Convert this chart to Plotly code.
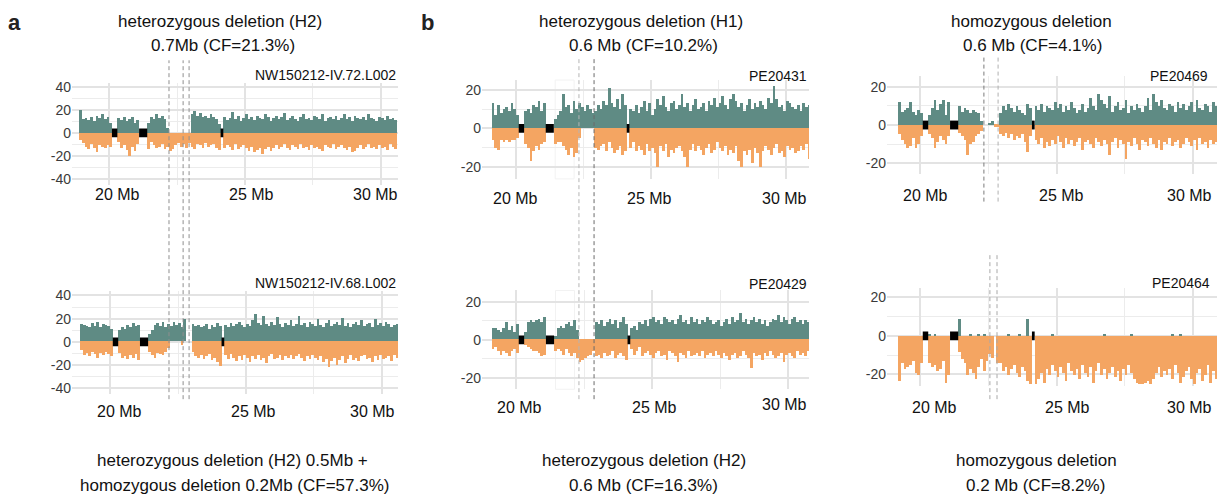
import plotly.graph_objects as go

W, H = 1221, 497
BIN_MB = 0.1

# ---------------- data ----------------
# each list = one value per 0.1 Mb bin; H = teal (haplotype, up), L = orange (down)
A_TOP_START = 18.9
A_TOP_H = [20,12,13,11,14,10,15,13,16,12,14,9, 0,0, 13,11,14,10,12,14,9,11, 0,0,0,
           9,14,12,16,13,15,12,4, 0,0,0,0,0,0,0,0, 16,19,15,17,14,15,13,16,14,12,8, 0,
           14,11,13,18,12,15,10,13, 16,12,14,11,15,13,12,16, 14,10,13,15,12,14,17,11,
           13,15,12,10,14,16,12,13, 11,15,14,12,16,10,13,14, 12,15,11,13,16,12,14,10,
           15,13,12,14,11,16,13,12, 10,14,13,11,15,12,13,11]
A_TOP_L = [-6,-9,-12,-14,-10,-13,-17,-11,-12,-13,-11,-12, 0,0, -8,-13,-11,-15,-20,-12,-16,-10, 0,0,0,
           -14,-8,-11,-13,-12,-10,-14,-12, -16,-14,-11,-9,-12,-10,-13,-9,
           -12,-14,-10,-11,-13,-9,-12,-11,-10,-13,-15, 0,
           -13,-11,-12,-15,-10,-14,-12,-11, -13,-16,-12,-17,-15,-13,-18,-14, -12,-16,-13,-11,-14,-12,-10,-13,
           -15,-11,-12,-14,-10,-13,-12,-15, -11,-13,-12,-14,-16,-11,-12,-13, -10,-14,-12,-11,-13,-15,-12,-17,
           -16,-13,-11,-14,-12,-10,-13,-12, -14,-11,-13,-12,-15,-10,-12,-14]

A_BOT_START = 18.9
A_BOT_H = [15,14,13,12,16,13,17,12,15,14,13,11, 0,0, 10,12,11,14,12,16,13,14, 0,0,0,
           6,10,14,16,13,17,12,15, 13,17,14,16,12,19, 0,0, 15,13,14,12,13,15,11,14,12,16,13, 0,
           14,12,16,13,15,17,14,12, 15,13,18,24,16,14,22,15, 13,17,14,21,15,12,16,14,
           18,13,15,22,14,16,12,17, 15,13,19,14,12,16,18,13, 15,17,14,20,13,16,12,15,
           17,14,18,13,15,16,12,19, 14,16,13,17,15,12,14,15]
A_BOT_L = [-7,-12,-10,-13,-9,-11,-14,-10,-12,-9,-11,-13, 0,0, -10,-14,-13,-15,-12,-14,-11,-16, 0,0,0,
           -9,-12,-14,-10,-11,-12,-9,-6, 0,0,0,0,-3,0,0,0,
           -9,-13,-14,-12,-15,-13,-11,-16,-14,-18,-21, 0,
           -12,-15,-11,-14,-17,-13,-16,-12, -14,-18,-13,-15,-12,-16,-14,-19, -13,-11,-15,-14,-12,-16,-13,-14,
           -12,-15,-13,-11,-14,-17,-13,-15, -12,-14,-16,-13,-18,-15,-22,-17, -14,-20,-16,-13,-19,-15,-12,-16,
           -14,-17,-13,-12,-15,-14,-18,-13, -16,-12,-15,-14,-13,-17,-12,-14]

B_TOP_START = 19.1
B_TOP_H = [13,7,12,8,10,11,9,13,10,7, 0,0, 9,10,8,12,11,14,9,13, 0,0,0,
           5,7,9,18,11,12,8,14,10, 13,11,9,12,10,8,
           9,12,10,14,12,21,13,11,15,10,18,12, 0,
           10,9,12,8,11,14,9,13, 7,10,15,12,17,11,9,13, 14,10,12,18,11,13,9,12,
           15,10,11,13,9,14,12,16, 11,13,17,12,10,15,18,14, 11,13,9,12,15,10,13,11,
           14,12,10,16,13,22,15,11, 12,9,14,13,11,10,12,9, 13,11,12]
B_TOP_L = [-6,-10,-11,-6,-7,-6,-7,-6,-6,-5, 0,0, -8,-10,-17,-12,-9,-11,-8,-7, 0,0,0,
           -8,-7,-7,-9,-11,-14,-10,-15,-13, -5,0,0,0,0,0,
           -10,-11,-9,-8,-12,-7,-10,-13,-11,-9,-14,-12, 0,
           -10,-7,-12,-9,-11,-14,-8,-12, -10,-13,-20,-9,-12,-8,-15,-11, -13,-10,-9,-12,-15,-20,-11,-8,
           -12,-9,-11,-14,-10,-8,-13,-11, -7,-10,-12,-9,-14,-11,-13,-9, -17,-20,-12,-14,-11,-18,-10,-13,
           -20,-12,-9,-11,-14,-10,-8,-13, -12,-15,-9,-11,-10,-13,-12,-9, -11,-8,-16]

B_BOT_START = 19.1
B_BOT_H = [6,6,5,4,6,9,5,7,4,8, 0,0, 4,9,10,9,10,11,9,12, 0,0,0,
           2,6,7,6,8,9,7,10,5, 0,0,0,0,0,0,
           9,8,10,7,9,11,8,10,6,9,12,8, 0,
           6,7,5,9,8,10,7,11, 12,9,10,8,12,11,9,10, 8,11,13,9,10,8,12,9,
           11,8,10,9,12,10,8,9, 10,7,9,11,8,12,9,10, 14,9,11,8,10,12,9,11,
           8,10,7,9,11,10,13,9, 12,10,8,11,12,9,10,8, 10,9,6]
B_BOT_L = [-5,-4,-6,-8,-6,-7,-9,-6,-5,-7, 0,0, -3,-4,-5,-6,-6,-7,-9,-8, 0,0,0,
           -6,-5,-6,-8,-5,-7,-9,-7,-10, -12,-11,-10,-9,-8,-6,
           -9,-8,-10,-7,-9,-8,-6,-10,-8,-7,-9,-11, 0,
           -5,-8,-6,-4,-9,-7,-6,-8, -10,-7,-6,-9,-8,-11,-6,-7, -9,-12,-7,-8,-10,-6,-9,-8,
           -7,-9,-6,-10,-8,-7,-9,-6, -8,-10,-7,-9,-11,-8,-7,-10, -9,-6,-8,-10,-15,-7,-9,-8,
           -11,-7,-9,-6,-8,-10,-9,-7, -12,-8,-7,-9,-10,-6,-8,-7, -9,-6,-5]

C_TOP_START = 19.2
C_TOP_H = [12,7,8,9,12,7,5,8,6, 0,0, 5,9,13,8,11,13,5,12, 0,0,0,
           10,7,9,8,6,8,7,6,2, 0,0,1,2,0,0,
           6,10,8,11,9,7,10,8,6,5,11,9, 0,
           10,8,11,7,10,9,8,12, 9,11,7,10,8,12,9,6, 8,11,7,9,14,10,8,16,
           13,11,9,15,7,10,12,8, 9,13,6,10,8,11,9,7, 10,14,8,16,12,10,13,9,
           8,11,10,7,12,9,11,8, 10,12,7,13,9,8,11,10, 7,12,10]
C_TOP_L = [-5,-8,-10,-12,-11,-7,-12,-10,-6, 0,0, -5,-7,-12,-9,-6,-8,-10,-6, 0,0,0,
           -4,-6,-8,-16,-10,-9,-6,-5,-3, 0,0,0,0,-1,-1,
           -5,-6,-4,-7,-5,-8,-6,-7,-5,-9,-14,-6, 0,
           -8,-10,-7,-12,-9,-11,-8,-10, -6,-9,-12,-7,-10,-8,-11,-9, -7,-13,-9,-8,-10,-12,-7,-9,
           -11,-8,-10,-16,-9,-7,-12,-8, -10,-18,-9,-11,-7,-10,-13,-8, -9,-11,-7,-10,-12,-8,-13,-9,
           -10,-7,-11,-9,-8,-12,-10,-7, -9,-11,-8,-13,-7,-10,-9,-12, -8,-10,-9]

C_BOT_START = 19.2
C_BOT_H = [0,0,0,0,0,0,0,0,0, 0,0, 1,0,1,0,0,0,0,0, 0,0,0,
           9,0,0,0,1,0,0,1,0, 1,0,0,0,0,0,
           0,0,0,1,0,0,0,1,0,0,9,0, 0,
           0,0,0,0,0,0,1,0, 0,0,0,0,0,0,0,0, 0,0,0,0,0,0,0,0,
           0,1,0,0,0,0,0,0, 0,0,0,1,0,0,0,0, 0,0,0,0,0,0,0,0,
           0,0,1,0,0,1,0,0, 0,0,0,0,0,0,0,0, 0,0,0]
C_BOT_L = [-23,-14,-17,-16,-15,-13,-19,-20,-14, 0,0, -14,-16,-15,-18,-17,-13,-24,-20, 0,0,0,
           -8,-12,-14,-20,-17,-19,-22,-16,-12, -18,-13,-9,-11,0,-14,
           -14,-18,-16,-20,-17,-15,-19,-21,-16,-18,-23,-25, 0,
           -25,-22,-19,-24,-17,-20,-15,-18, -21,-16,-19,-23,-14,-18,-20,-17, -22,-15,-19,-21,-16,-24,-18,-14,
           -20,-17,-22,-19,-16,-21,-18,-23, -17,-20,-15,-19,-22,-24,-25,-25, -24,-23,-25,-22,-19,-16,-21,-18,
           -20,-17,-22,-15,-19,-24,-21,-18, -16,-22,-25,-19,-17,-23,-20,-15, -24,-18,-22]

# assembly gaps (black blocks), Mb
GAPS = [[20.1, 20.3], [21.1, 21.4], [24.1, 24.2]]
# deletion breakpoints (dashed lines), Mb in each panel's coordinates
A_BREAKS = [22.2, 22.72, 22.94]
B_BREAKS = [22.33, 22.89]
C_TOP_BREAKS = [22.34, 22.86]
C_BOT_BREAKS = [22.56, 22.82]
B_BOX = [21.45, 22.15]

SAMPLES = ["NW150212-IV.72.L002", "NW150212-IV.68.L002", "PE20431", "PE20429", "PE20469", "PE20464"]
X_TICKS = [20, 25, 30]
X_TICK_TEXT = ["20 Mb", "25 Mb", "30 Mb"]
TOP_TITLES = [["heterozygous deletion (H2)", "0.7Mb (CF=21.3%)"],
              ["heterozygous deletion (H1)", "0.6 Mb (CF=10.2%)"],
              ["homozygous deletion", "0.6 Mb (CF=4.1%)"]]
BOTTOM_TITLES = [["heterozygous deletion (H2) 0.5Mb +", "homozygous deletion 0.2Mb (CF=57.3%)"],
                 ["heterozygous deletion (H2)", "0.6 Mb (CF=16.3%)"],
                 ["homozygous deletion", "0.2 Mb (CF=8.2%)"]]

# ---------------- style / layout ----------------
TEAL = "#5f8b84"
ORANGE = "#f4a562"
MAJ = "#e3e3e3"
MINC = "#ececec"
FONT = "Liberation Sans, Arial, sans-serif"

def px(x):
    return x / W

def py(y):
    return 1 - y / H

panels = [
    dict(start=A_TOP_START, h=A_TOP_H, l=A_TOP_L, xd=(72, 398), yd=(80, 183), xr=[18.63, 30.63], yr=[-45.2, 43.4],
         yt=[-40, -20, 0, 20, 40], ym=[-30, -10, 10, 30]),
    dict(start=A_BOT_START, h=A_BOT_H, l=A_BOT_L, xd=(72, 398), yd=(291, 395), xr=[18.6, 30.59], yr=[-45.1, 43.4],
         yt=[-40, -20, 0, 20, 40], ym=[-30, -10, 10, 30]),
    dict(start=B_TOP_START, h=B_TOP_H, l=B_TOP_L, xd=(482, 809), yd=(77, 177), xr=[18.74, 30.85], yr=[-26.2, 25.1],
         yt=[-20, 0, 20], ym=[-10, 10]),
    dict(start=B_BOT_START, h=B_BOT_H, l=B_BOT_L, xd=(482, 809), yd=(290, 390), xr=[18.75, 30.77], yr=[-26.1, 26.1],
         yt=[-20, 0, 20], ym=[-10, 10]),
    dict(start=C_TOP_START, h=C_TOP_H, l=C_TOP_L, xd=(887, 1217), yd=(73, 172), xr=[18.79, 30.88], yr=[-25.7, 25.7],
         yt=[-20, 0, 20], ym=[-10, 10]),
    dict(start=C_BOT_START, h=C_BOT_H, l=C_BOT_L, xd=(887, 1217), yd=(287, 387), xr=[18.79, 30.88], yr=[-26.2, 25.1],
         yt=[-20, 0, 20], ym=[-10, 10]),
]

fig = go.Figure()
shapes = []
annotations = []
layout = {}

for k, p in enumerate(panels):
    sfx = "" if k == 0 else str(k + 1)
    xa, ya = "x" + sfx, "y" + sfx
    for vals, col in ((p["h"], TEAL), (p["l"], ORANGE)):
        xs = [p["start"] + BIN_MB * (i + 0.5) for i in range(len(vals))]
        fig.add_trace(go.Bar(x=xs, y=vals, width=BIN_MB, marker=dict(color=col, line=dict(width=0)),
                             xaxis=xa, yaxis=ya, showlegend=False, hoverinfo="skip"))
    layout["xaxis" + sfx] = dict(
        domain=[px(p["xd"][0]), px(p["xd"][1])], range=p["xr"], anchor=ya,
        tickmode="array", tickvals=X_TICKS, showticklabels=False, ticks="",
        showgrid=True, gridcolor=MAJ, gridwidth=2, zeroline=False, showline=False,
        minor=dict(tickmode="array", tickvals=[22.5, 27.5], showgrid=True, gridcolor=MINC, gridwidth=1, ticks=""),
        fixedrange=True)
    layout["yaxis" + sfx] = dict(
        domain=[py(p["yd"][1]), py(p["yd"][0])], range=p["yr"], anchor=xa,
        tickmode="array", tickvals=p["yt"], ticktext=[str(v) for v in p["yt"]], ticks="",
        tickfont=dict(size=14, color="#3a3a3a", family=FONT),
        showgrid=True, gridcolor=MAJ, gridwidth=2, zeroline=False, showline=False,
        minor=dict(tickmode="array", tickvals=p["ym"], showgrid=True, gridcolor=MINC, gridwidth=1, ticks=""),
        fixedrange=True)
    hh = 4.5 * (p["yr"][1] - p["yr"][0]) / (p["yd"][1] - p["yd"][0])
    for g0, g1 in GAPS:
        shapes.append(dict(type="rect", xref=xa, yref=ya, x0=g0, x1=g1, y0=-hh, y1=hh,
                           fillcolor="black", line=dict(width=0), layer="above"))

for sfx, (y0, y1) in (("3", (77, 177)), ("4", (290, 390))):
    shapes.append(dict(type="rect", xref="x" + sfx, yref="paper", x0=B_BOX[0], x1=B_BOX[1],
                       y0=py(y1), y1=py(y0), fillcolor="white", line=dict(color="#f2f2f2", width=1),
                       layer="between"))

def vline(xref, x, ytop, ybot, color):
    shapes.append(dict(type="line", xref=xref, yref="paper", x0=x, x1=x, y0=py(ybot), y1=py(ytop),
                       line=dict(color=color, width=1, dash="4px,3px"), layer="above"))

for x in A_BREAKS:
    vline("x", x, 57, 400, "#8f8f8f")
vline("x3", B_BREAKS[0], 55, 400, "#b5b5b5")
vline("x3", B_BREAKS[1], 55, 400, "#6a6a6a")
vline("x5", C_TOP_BREAKS[0], 52, 200, "#7a7a7a")
vline("x5", C_TOP_BREAKS[1], 52, 200, "#b0b0b0")
vline("x6", C_BOT_BREAKS[0], 252, 400, "#a8a8a8")
vline("x6", C_BOT_BREAKS[1], 252, 400, "#a8a8a8")

def text(x, y, s, size=16, color="#111111", xanchor="center", bold=False):
    annotations.append(dict(xref="paper", yref="paper", x=px(x), y=py(y), text=("<b>%s</b>" % s) if bold else s,
                            showarrow=False, xanchor=xanchor, yanchor="middle",
                            font=dict(size=size, color=color, family=FONT)))

xlab_pos = [
    [(117, 193), (251, 193), (375, 193)],
    [(119.5, 412), (253.5, 412), (372, 412)],
    [(515.5, 197), (649.5, 197), (784.5, 197)],
    [(519.5, 408), (654, 408), (784.5, 405)],
    [(926, 194), (1061, 194), (1189, 194)],
    [(934, 408), (1067, 408), (1189, 408)],
]
for pos in xlab_pos:
    for (x, y), s in zip(pos, X_TICK_TEXT):
        text(x, y, s, size=16)

name_pos = [(398, 72), (398, 282.5), (809, 73), (809, 283), (1210, 73), (1212, 282)]
for (x, y), s in zip(name_pos, SAMPLES):
    text(x, y, s, size=14, xanchor="right")

top_c = [(220, 223), (641, 643), (1031, 1032)]
bot_c = [(232, 234), (644, 643), (1036, 1035)]
for (c1, c2), (t1, t2) in zip(top_c, TOP_TITLES):
    text(c1, 18, t1, size=17)
    text(c2, 42, t2, size=17)
for (c1, c2), (t1, t2) in zip(bot_c, BOTTOM_TITLES):
    text(c1, 462, t1, size=17)
    text(c2, 487, t2, size=17)

text(15, 19, "a", size=22, bold=True, color="#222222")
text(427, 19, "b", size=22, bold=True, color="#222222")

fig.update_layout(width=W, height=H, margin=dict(l=0, r=0, t=0, b=0), paper_bgcolor="white",
                  plot_bgcolor="rgba(0,0,0,0)", barmode="overlay", bargap=0, shapes=shapes,
                  annotations=annotations, font=dict(family=FONT), **layout)
fig.write_html("out.html")
